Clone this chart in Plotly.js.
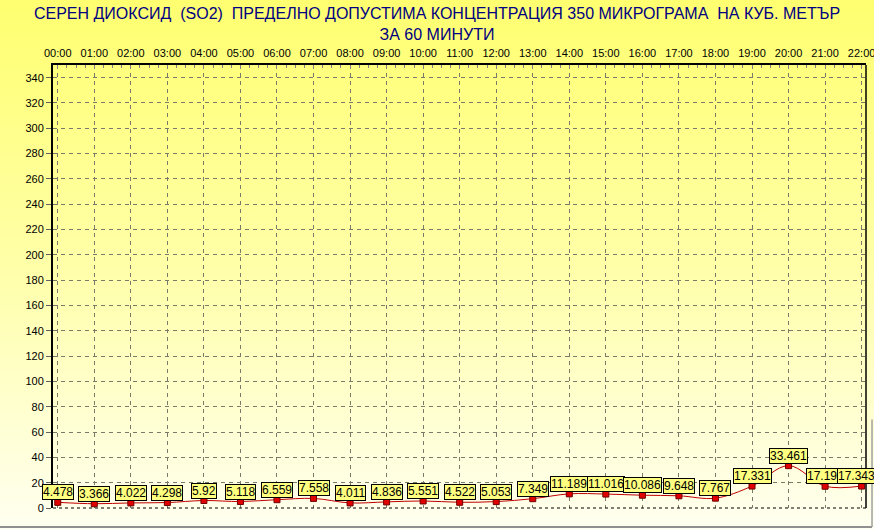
<!DOCTYPE html>
<html>
<head>
<meta charset="utf-8">
<script src="https://cdn.plot.ly/plotly-3.0.1.min.js"></script>
<style>
  html, body { margin: 0; padding: 0; }
  #chart { width: 874px; height: 529px; background: linear-gradient(to bottom, #ffff70 0%, #ffffa8 50%, #fffff0 100%); }
</style>
</head>
<body>
<div id="chart"></div>
<script>
const hours = ["00:00","01:00","02:00","03:00","04:00","05:00","06:00","07:00","08:00","09:00","10:00","11:00","12:00","13:00","14:00","15:00","16:00","17:00","18:00","19:00","20:00","21:00","22:00"];
const so2Values = [4.478, 3.366, 4.022, 4.298, 5.92, 5.118, 6.559, 7.558, 4.011, 4.836, 5.551, 4.522, 5.053, 7.349, 11.189, 11.016, 10.086, 9.648, 7.767, 17.331, 33.461, 17.199, 17.343];
const titleLine1 = "СЕРЕН ДИОКСИД \u00a0(SO2) \u00a0ПРЕДЕЛНО ДОПУСТИМА КОНЦЕНТРАЦИЯ 350 МИКРОГРАМА \u00a0НА КУБ. МЕТЪР";
const titleLine2 = "ЗА 60 МИНУТИ";

const xIdx = hours.map((h, i) => i);

const trace = {
  x: xIdx,
  y: so2Values,
  type: 'scatter',
  mode: 'lines+markers',
  line: { color: '#c00000', width: 1, shape: 'spline' },
  marker: { symbol: 'square', size: 6, color: '#e00000', line: { color: '#700000', width: 1 } },
  cliponaxis: false,
  hoverinfo: 'skip'
};

const annotations = so2Values.map((v, i) => ({
  x: i, y: v, xref: 'x', yref: 'y',
  text: String(v),
  showarrow: false,
  yanchor: 'bottom',
  yshift: 2,
  xshift: (i === so2Values.length - 1) ? -5 : 0,
  bgcolor: '#ffff80',
  bordercolor: '#000000',
  borderwidth: 1,
  borderpad: 0,
  font: { family: 'Liberation Sans, Arial, sans-serif', size: 12, color: '#000000' }
}));

const shapes = [
  { type: 'line', xref: 'paper', yref: 'paper', x0: 1, x1: 1, y0: 0, y1: 1, line: { color: '#000000', width: 1.5 } },
  { type: 'line', xref: 'paper', yref: 'paper', x0: 0, x1: 1, y0: 0, y1: 0, line: { color: '#000000', width: 1, dash: '3px,3px' } },
  { type: 'line', xref: 'paper', yref: 'paper', x0: -0.07, x1: 1.0074, y0: -0.0429, y1: -0.0429, line: { color: '#909090', width: 2 } },
  { type: 'line', xref: 'paper', yref: 'paper', x0: 1.0074, x1: 1.0074, y0: -0.0429, y1: 0.2, line: { color: '#a0a0a0', width: 1.5 } }
];

const layout = {
  width: 874, height: 529,
  paper_bgcolor: 'rgba(0,0,0,0)',
  plot_bgcolor: 'rgba(0,0,0,0)',
  margin: { l: 53, r: 8, t: 65, b: 21 },
  showlegend: false,
  title: {
    text: titleLine1 + '<br>' + titleLine2,
    x: 0.5, xanchor: 'center',
    y: 0.964, yanchor: 'top', yref: 'container',
    font: { family: 'Liberation Sans, Arial, sans-serif', size: 16, color: '#000080' }
  },
  xaxis: {
    type: 'linear',
    side: 'top',
    range: [-0.13, 22.12],
    tickmode: 'array',
    tickvals: xIdx,
    ticktext: hours,
    ticks: 'inside', ticklen: 4, tickcolor: '#808080',
    ticklabelstandoff: 2,
    ticklabeloverflow: 'allow',
    tickfont: { family: 'Liberation Sans, Arial, sans-serif', size: 11, color: '#000000' },
    showline: true, linecolor: '#000000', linewidth: 2,
    showgrid: true, gridcolor: '#7a7a6a', gridwidth: 1, griddash: '4px,4px',
    zeroline: false,
    minor: { tickmode: 'linear', tick0: 0, dtick: 0.25, ticks: 'inside', ticklen: 3, tickcolor: '#808080', showgrid: false },
    fixedrange: true
  },
  yaxis: {
    range: [0, 350],
    tick0: 0, dtick: 20,
    ticks: 'outside', ticklen: 5, tickcolor: '#606060',
    tickfont: { family: 'Liberation Sans, Arial, sans-serif', size: 11, color: '#000000' },
    showline: true, linecolor: '#000000', linewidth: 2,
    showgrid: true, gridcolor: '#7a7a6a', gridwidth: 1, griddash: '4px,4px',
    zeroline: false,
    fixedrange: true
  },
  annotations: annotations,
  shapes: shapes
};

Plotly.newPlot('chart', [trace], layout, { displayModeBar: false, staticPlot: true });
</script>
</body>
</html>
